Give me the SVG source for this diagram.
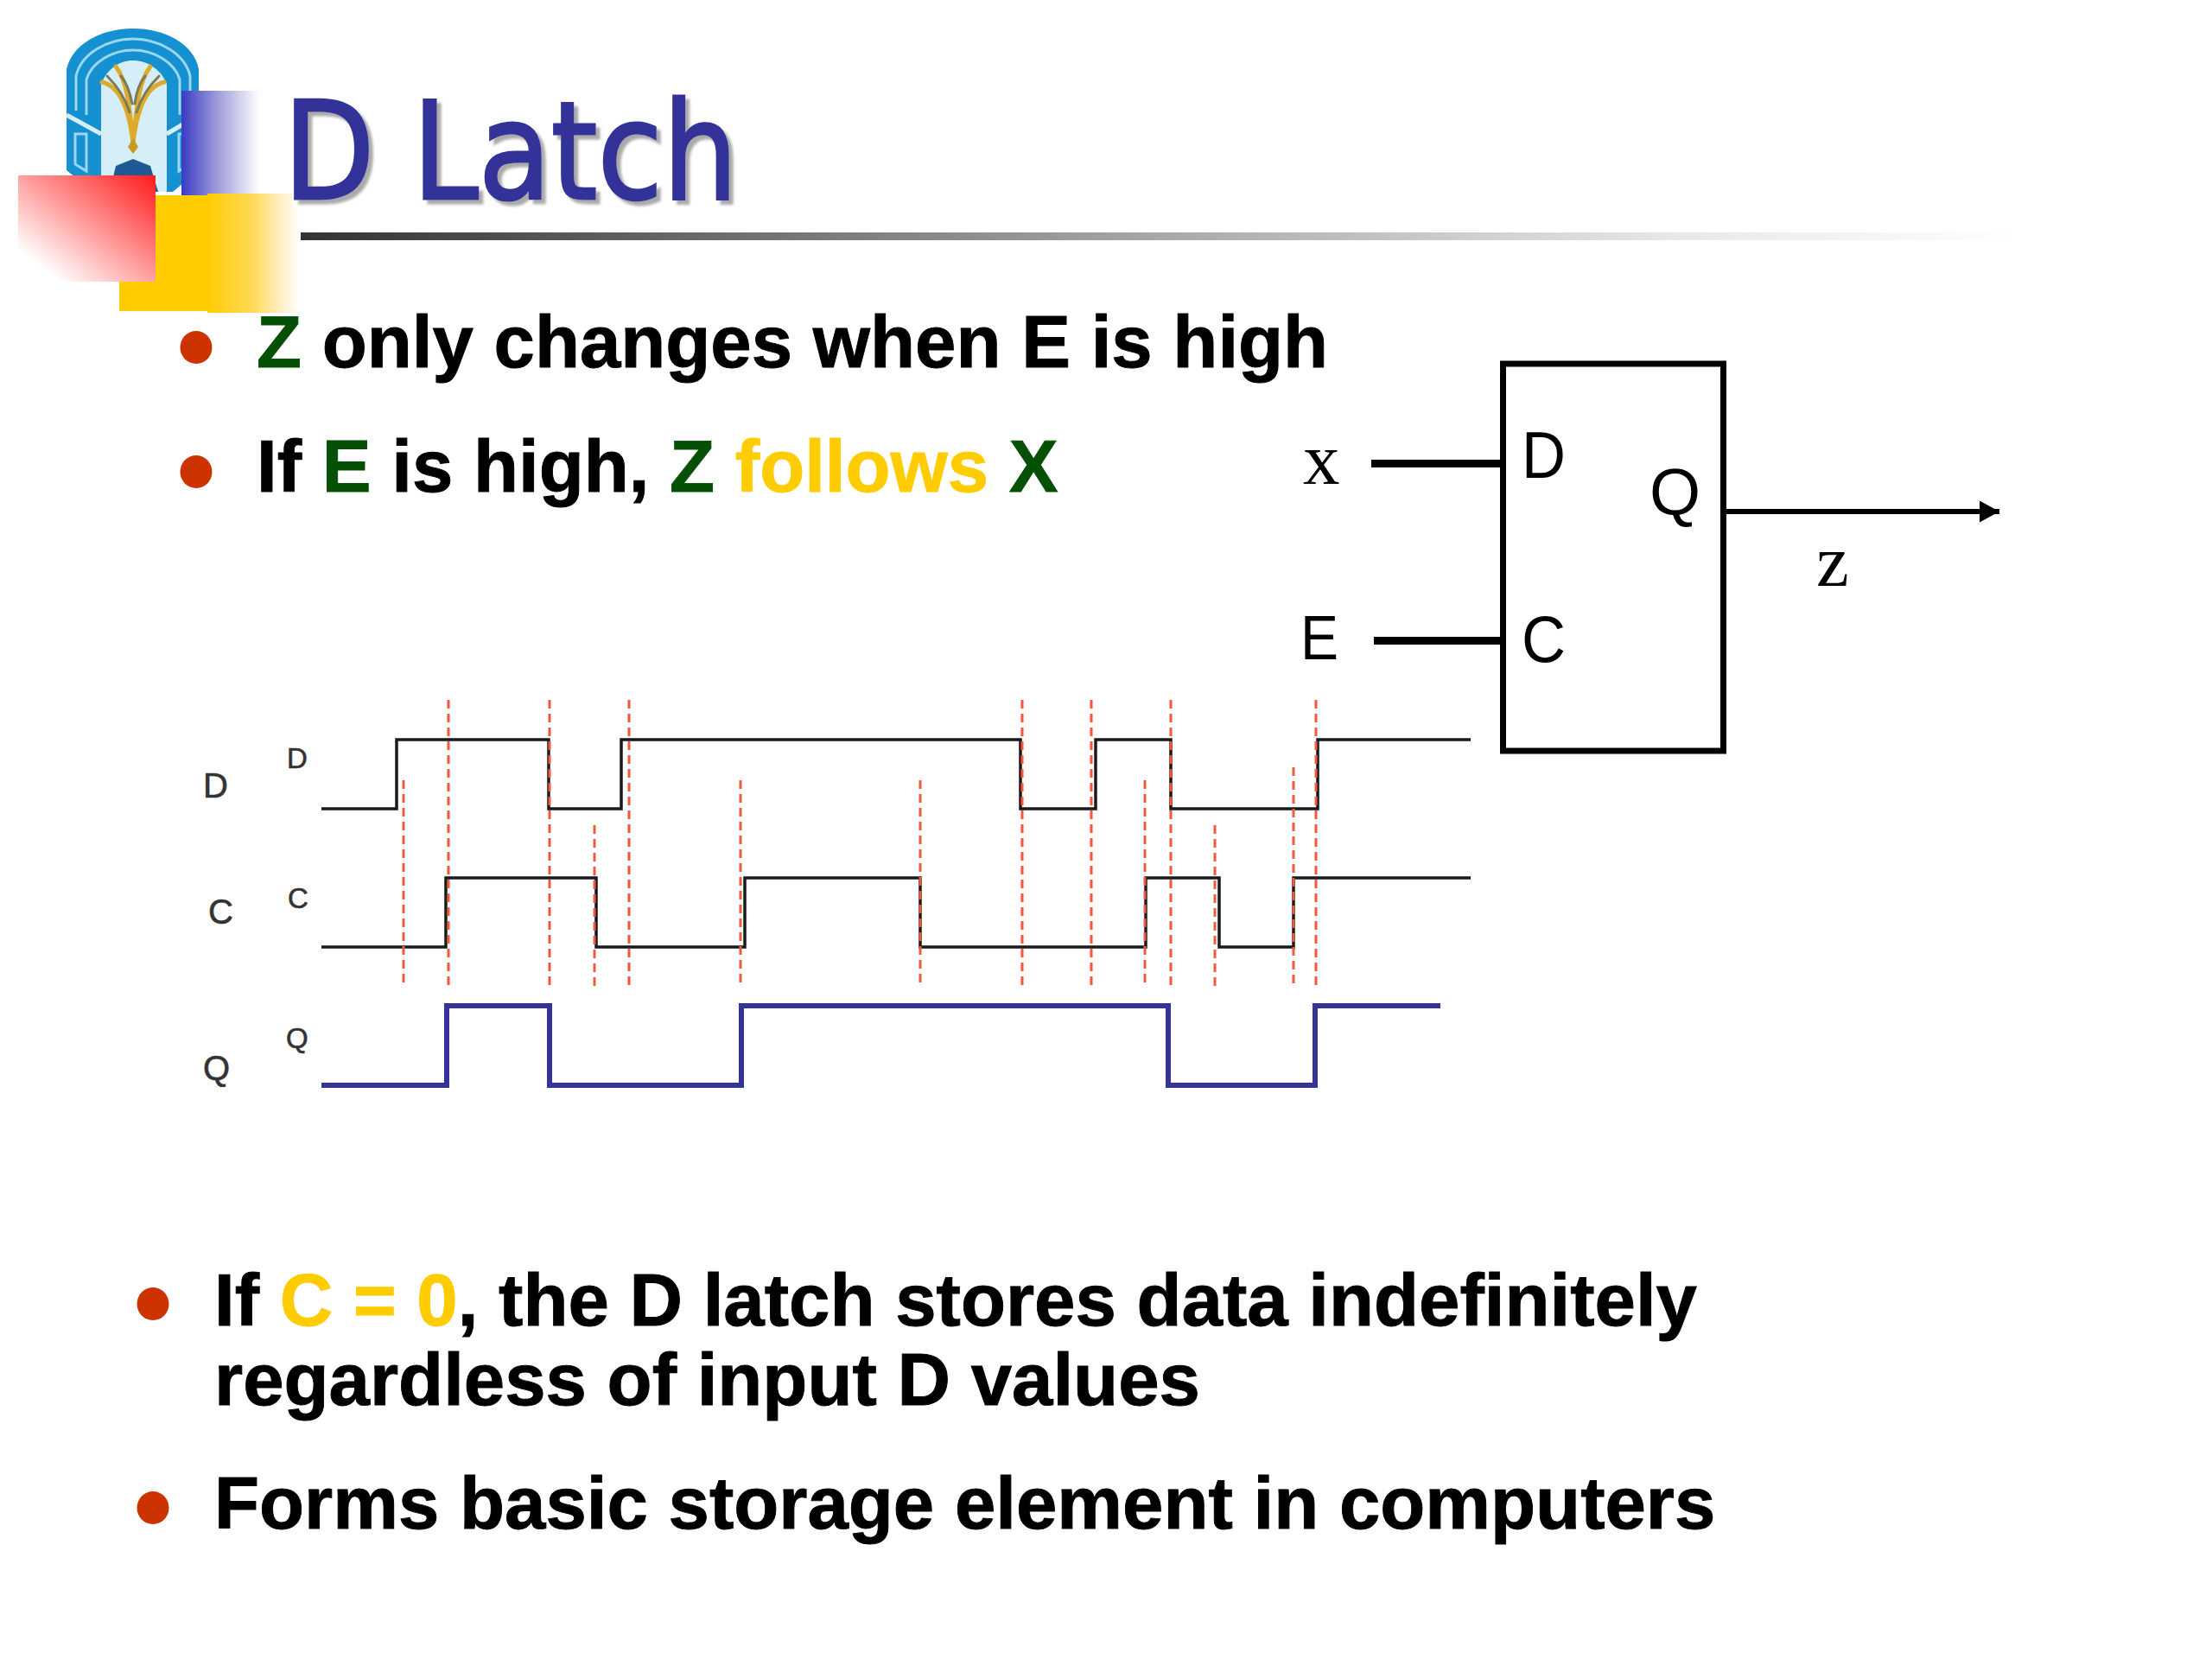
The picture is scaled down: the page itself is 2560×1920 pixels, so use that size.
<svg xmlns="http://www.w3.org/2000/svg" width="2560" height="1920" viewBox="0 0 2560 1920">
<defs>
<linearGradient id="gBlue" x1="0" x2="1" y1="0" y2="0"><stop offset="0" stop-color="#3a3ac4"/><stop offset="0.44" stop-color="#9a98d8"/><stop offset="1" stop-color="#ffffff"/></linearGradient>
<linearGradient id="gYellow" x1="0" x2="1" y1="0" y2="0"><stop offset="0" stop-color="#ffcc00"/><stop offset="0.5" stop-color="#ffd95a"/><stop offset="0.8" stop-color="#fff0c8"/><stop offset="1" stop-color="#ffffff"/></linearGradient>
<linearGradient id="gRed" x1="1" x2="0" y1="0" y2="1"><stop offset="0" stop-color="#ff1a1a"/><stop offset="0.85" stop-color="#ffffff"/></linearGradient>
<linearGradient id="gRule" x1="0" x2="1" y1="0" y2="0"><stop offset="0" stop-color="#333333"/><stop offset="0.5" stop-color="#a8a8a8"/><stop offset="0.8" stop-color="#e8e8e8"/><stop offset="1" stop-color="#ffffff"/></linearGradient>
<filter id="shadow" x="-5%" y="-5%" width="115%" height="115%"><feDropShadow dx="5" dy="5" stdDeviation="1.5" flood-color="#aaaaaa"/></filter>
<marker id="arrow" markerUnits="userSpaceOnUse" markerWidth="24" markerHeight="26" refX="23" refY="12.5" orient="auto"><path d="M0 0L23 12.5L0 25z" fill="#000"/></marker>
</defs>
<style>
.b{font-family:"Liberation Sans",Arial,sans-serif;font-weight:700;font-size:85.2px;fill:#000;stroke:#000;stroke-width:.9px}
.g{fill:#065006;stroke:#065006}.y{fill:#ffcc00;stroke:#ffcc00}
.dot{fill:#cc3300}
.sig{fill:none;stroke:#1a1a1a;stroke-width:3.5}
.q{fill:none;stroke:#333399;stroke-width:6}
.red{fill:none;stroke:#f4583a;stroke-width:3;stroke-dasharray:10 6}
.l{font-family:"Liberation Sans",Arial,sans-serif;fill:#000}
.t{fill:#333;stroke:#333;stroke-width:.6px}
.s{font-family:"Liberation Serif","Times New Roman",serif;font-size:85px;fill:#000}
.w{fill:none;stroke:#000}
.ls{fill:none;stroke:#9ad8f2;stroke-width:3}
.gold{fill:none;stroke:#dcab2a;stroke-width:5;stroke-linecap:round}
.grey{fill:none;stroke:#7b7a5c;stroke-width:3;stroke-linecap:round}
</style>
<rect width="2560" height="1920" fill="#fff"/>

<g id="logo">
<path d="M77 80C84 50 118 33 154 33C190 33 224 50 230 80V197L200 222H108L77 197z" fill="#1591d2"/>
<path d="M88 128V88C94 62 124 45 154 45C184 45 214 62 220 88V128" class="ls"/>
<path d="M100 133V92C106 72 130 58 154 58C178 58 202 72 208 92V133" class="ls"/>
<path d="M117 222V97C124 80 138 70 154 70C170 70 186 80 193 97V222z" fill="#d5eef8"/>
<path d="M77 133L117 155M230 133L193 155" fill="none" stroke="#d5eef8" stroke-width="5"/>
<path d="M87 155V190L100 198V155z" fill="none" stroke="#9ad8f2" stroke-width="3"/>
<path d="M220 155V190L207 198V155z" fill="none" stroke="#9ad8f2" stroke-width="3"/>
<path class="gold" d="M154 166C150 130 140 100 118 95M154 166C150 125 148 95 134 77M154 166C158 130 168 100 190 95M154 166C158 125 160 95 174 77"/>
<path class="grey" d="M150 130C144 110 134 98 124 88M158 130C164 110 174 98 184 88M153 120C150 105 146 95 140 88M156 120C158 105 162 95 168 88"/>
<path d="M154 160L148 170L154 178L160 170z" fill="#c79a28"/>
<path d="M127 222L134 192L154 184L174 192L183 222z" fill="#1f5a96"/>
</g>

<g id="decor">
<rect x="210" y="105" width="90" height="122" fill="url(#gBlue)"/>
<rect x="138" y="226" width="103" height="134" fill="#ffcc00"/>
<rect x="240" y="224" width="107" height="138" fill="url(#gYellow)"/>
<rect x="21" y="203" width="159" height="123" fill="url(#gRed)"/>
</g>

<g id="title">
<text x="328" y="230" textLength="526" lengthAdjust="spacingAndGlyphs" font-family="'DejaVu Sans',sans-serif" font-size="157" fill="#333399" stroke="#333399" stroke-width="3" filter="url(#shadow)">D Latch</text>
<rect x="348" y="269" width="1990" height="9" fill="url(#gRule)"/>
</g>

<g id="bullets-top">
<ellipse class="dot" cx="227" cy="402" rx="18.500" ry="19"/>
<text class="b" x="297" y="425"><tspan class="g">Z</tspan> only changes when E is high</text>
<ellipse class="dot" cx="227" cy="546" rx="18.500" ry="19"/>
<text class="b" x="297" y="569">If <tspan class="g">E</tspan> is high, <tspan class="g">Z</tspan> <tspan class="y">follows</tspan> <tspan class="g">X</tspan></text>
</g>

<g id="latch">
<rect x="1739.500" y="421" width="255" height="448" fill="none" stroke="#000" stroke-width="7"/>
<text class="l" x="1761" y="553" font-size="76" textLength="51" lengthAdjust="spacingAndGlyphs">D</text>
<text class="l" x="1909" y="595" font-size="76">Q</text>
<text class="l" x="1761" y="766" font-size="76" textLength="51" lengthAdjust="spacingAndGlyphs">C</text>
</g>
<g id="labels-latch">
<text class="s" x="1508" y="560">x</text>
<text class="l" x="1505" y="763" font-size="72" textLength="44" lengthAdjust="spacingAndGlyphs">E</text>
<text class="s" x="2102" y="678">z</text>
</g>

<g id="connectors">
<path class="w" d="M1587 536.500H1738" stroke-width="9"/>
<path class="w" d="M1590 741.500H1738" stroke-width="9"/>
<path class="w" d="M1998 592H2314" stroke-width="6" marker-end="url(#arrow)"/>
</g>

<g id="timing">
<text class="l t" x="235" y="923" font-size="40">D</text>
<text class="l t" x="241" y="1069" font-size="40">C</text>
<text class="l t" x="235" y="1250" font-size="40">Q</text>
<text class="l t" x="332" y="889" font-size="33">D</text>
<text class="l t" x="333" y="1051" font-size="33">C</text>
<text class="l t" x="331" y="1213" font-size="33">Q</text>
<path class="sig" d="M372 936H459V856H635V936H719V856H1181V936H1268V856H1355V936H1525V856H1702"/>
<path class="sig" d="M372 1096H516V1016H690V1096H862V1016H1065V1096H1326V1016H1411V1096H1497V1016H1702"/>
<path class="q" d="M372 1256H517V1164H636V1256H858V1164H1352V1256H1522V1164H1667"/>
<path class="red" d="M519 810V1141M636 810V1141M728 810V1141M1183 810V1141M1263 810V1141M1355 810V1141M1523 810V1141M467 903V1141M857 903V1141M1065 903V1141M1325 903V1141M688 955V1141M1406 955V1141M1497 888V1141"/>
</g>

<g id="bullets-bottom">
<ellipse class="dot" cx="177" cy="1509" rx="18.500" ry="19"/>
<text class="b" x="248" y="1534">If <tspan class="y">C = 0</tspan>, the D latch stores data indefinitely</text>
<text class="b" x="248" y="1626">regardless of input D values</text>
<ellipse class="dot" cx="177" cy="1745" rx="18.500" ry="19"/>
<text class="b" x="248" y="1769">Forms basic storage element in computers</text>
</g>
</svg>
